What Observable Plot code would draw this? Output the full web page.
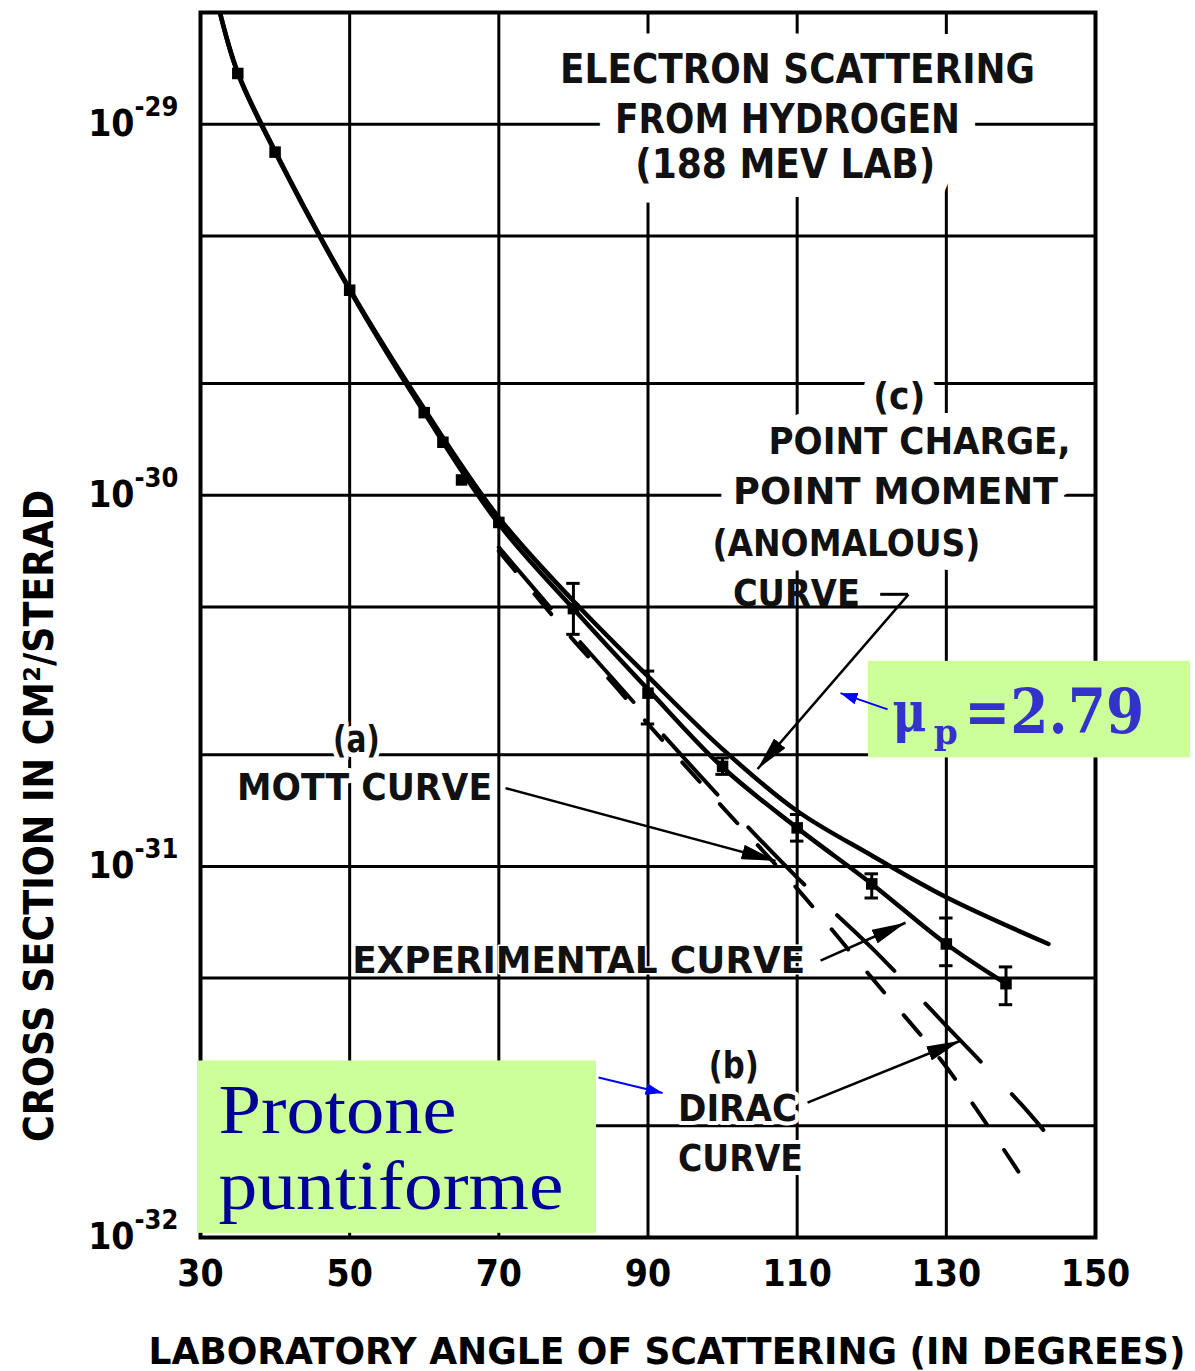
<!DOCTYPE html>
<html>
<head>
<meta charset="utf-8">
<script src="https://cdn.jsdelivr.net/npm/d3@7"></script>
<script src="https://cdn.jsdelivr.net/npm/@observablehq/plot@0.6"></script>
<style>
  html, body { margin: 0; padding: 0; background: #ffffff; }
  #chart svg { display: block; }
</style>
</head>
<body>
<div id="chart"></div>
<script>
// ---------------- data ----------------
const xTicks = [30, 50, 70, 90, 110, 130, 150];
const xGrid = [50, 70, 90, 110, 130];
const yGrid = [2e-32, 5e-32, 1e-31, 2e-31, 5e-31, 1e-30, 2e-30, 5e-30, 1e-29];
const yTicks = [1e-32, 1e-31, 1e-30, 1e-29];
const yTickBase = ["10", "10", "10", "10"];
const yTickExp = ["-32", "-31", "-30", "-29"];

// experimental curve (solid, through the points)
const expAngle = [32.5, 35, 40, 50, 60, 70, 80, 90, 100, 110, 120, 130, 138];
const expValue = [2.04e-29, 1.37e-29, 8.41e-30, 3.57e-30, 1.67e-30, 8.37e-31, 4.95e-31, 3.00e-31, 1.85e-31, 1.27e-31, 8.97e-32, 6.18e-32, 4.83e-32];

// (c) point charge, point moment (anomalous) curve
const anomAngle = [32.5, 35, 40, 50, 60, 70, 80, 90, 100, 110, 120, 130, 143.7];
const anomValue = [2.04e-29, 1.38e-29, 8.47e-30, 3.60e-30, 1.71e-30, 8.71e-31, 5.19e-31, 3.25e-31, 2.07e-31, 1.41e-31, 1.07e-31, 8.26e-32, 6.18e-32];

// (a) Mott curve
const mottAngle = [70, 80, 85, 90, 100, 110, 120, 130, 140.6];
const mottValue = [7.08e-31, 4.07e-31, 3.16e-31, 2.42e-31, 1.445e-31, 8.71e-32, 5.01e-32, 2.88e-32, 1.41e-32];

// (b) Dirac curve
const diracAngle = [70, 80, 90, 100, 110, 120, 130, 140, 143];
const diracValue = [7.24e-31, 4.22e-31, 2.51e-31, 1.51e-31, 9.33e-32, 6.03e-32, 3.72e-32, 2.29e-32, 1.95e-32];

// measured points
const pointAngle = [35, 40, 50, 60, 62.5, 65, 70, 80, 90, 100, 110, 120, 130, 138];
const pointValue = [1.37e-29, 8.41e-30, 3.57e-30, 1.67e-30, 1.39e-30, 1.10e-30, 8.45e-31, 4.95e-31, 2.93e-31, 1.86e-31, 1.27e-31, 8.97e-32, 6.18e-32, 4.83e-32];
const errAngle = [80, 90, 100, 110, 120, 130, 138];
const errLow = [4.22e-31, 2.42e-31, 1.77e-31, 1.17e-31, 8.22e-32, 5.40e-32, 4.24e-32];
const errHigh = [5.79e-31, 3.36e-31, 1.96e-31, 1.38e-31, 9.55e-32, 7.26e-32, 5.36e-32];

const xLabel = "LABORATORY ANGLE OF SCATTERING (IN DEGREES)";
const yLabel = "CROSS SECTION IN CM²/STERAD";

// ---------------- annotations (anchored in data space) ----------------
const titleNotes = [
  {x: 110.05, y: 1.40e-29, text: "ELECTRON SCATTERING"},
  {x: 108.7, y: 1.026e-29, text: "FROM HYDROGEN"},
  {x: 108.4, y: 7.76e-30, text: "(188 MEV LAB)"}
];
const cNotes = [
  {x: 123.7, y: 1.845e-30, text: "(c)"},
  {x: 126.4, y: 1.39e-30, text: "POINT CHARGE,"},
  {x: 123.2, y: 1.023e-30, text: "POINT MOMENT"},
  {x: 116.6, y: 7.41e-31, text: "(ANOMALOUS)"}
];
const cCurveNote = [{x: 109.9, y: 5.41e-31, text: "CURVE"}];
const mottNotes = [
  {x: 50.9, y: 2.20e-31, text: "(a)"},
  {x: 52.0, y: 1.625e-31, text: "MOTT CURVE"}
];
const expNote = [{x: 80.7, y: 5.55e-32, text: "EXPERIMENTAL CURVE"}];
const diracNotes = [
  {x: 101.5, y: 2.90e-32, text: "(b)"},
  {x: 102.0, y: 2.22e-32, text: "DIRAC"},
  {x: 102.4, y: 1.63e-32, text: "CURVE"}
];
const cDash = [{x1: 121.2, x2: 124.93, y: 5.41e-31}];
const blackArrows = [
  {x1: 70.9, y1: 1.625e-31, x2: 107.1, y2: 1.035e-31},
  {x1: 124.93, y1: 5.41e-31, x2: 104.69, y2: 1.83e-31},
  {x1: 113.13, y1: 5.57e-32, x2: 124.53, y2: 7.05e-32},
  {x1: 111.39, y1: 2.31e-32, x2: 131.9, y2: 3.39e-32}
];
const blueArrows = [
  {x1: 122.12, y1: 2.65e-31, x2: 115.81, y2: 2.93e-31},
  {x1: 83.37, y1: 2.70e-32, x2: 91.95, y2: 2.45e-32}
];
const boxes = [
  {x1: 119.57, x2: 162.74, y1: 1.96e-31, y2: 3.57e-31},
  {x1: 29.6, x2: 83.1, y1: 1.026e-32, y2: 2.99e-32}
];
const muNote = [{x: 122.79, y: 2.59e-31, text: "μ"}];
const subNote = [{x: 128.3, y: 2.29e-31, text: "p"}];
const valNote = [{x: 132.4, y: 2.59e-31, text: "=2.79"}];
const protNotes = [
  {x: 32.41, y: 2.20e-32, text: "Protone"},
  {x: 32.41, y: 1.37e-32, text: "puntiforme"}
];

// ---------------- tables ----------------
const zip = (a, v) => a.map((x, i) => ({angle: x, value: v[i]}));
const expCurve = zip(expAngle, expValue);
const anomCurve = zip(anomAngle, anomValue);
const mottCurve = zip(mottAngle, mottValue);
const diracCurve = zip(diracAngle, diracValue);
const points = zip(pointAngle, pointValue);
const errs = errAngle.map((a, i) => ({angle: a, lo: errLow[i], hi: errHigh[i]}));

const FONT = '"DejaVu Sans Condensed","DejaVu Sans",sans-serif';
const base = {x: "x", y: "y", text: "text", fontSize: 38, fontWeight: "bold"};
// a white halo drawn under each note (breaks the grid like the original lettering), then the lettering itself
function note(data, name, halo, size = 38) {
  const marks = [];
  if (halo > 0) marks.push(Plot.text(data, {...base, fontSize: size, fill: "white", stroke: "white", strokeWidth: halo, strokeLinejoin: "round", ariaDescription: name + "-halo"}));
  marks.push(Plot.text(data, {...base, fontSize: size, fill: "#111", ariaDescription: name}));
  return marks;
}

const chart = Plot.plot({
  width: 1195,
  height: 1371,
  marginLeft: 200,
  marginRight: 100,
  marginTop: 12,
  marginBottom: 134,
  x: {domain: [30, 150]},
  y: {type: "log", domain: [1e-32, 2e-29]},
  style: {fontFamily: FONT, background: "white", color: "black", overflow: "visible"},
  marks: [
    Plot.ruleX(xGrid, {stroke: "black", strokeWidth: 3}),
    Plot.ruleY(yGrid, {stroke: "black", strokeWidth: 3}),
    Plot.frame({stroke: "black", strokeWidth: 4}),
    Plot.axisX(xTicks, {tickSize: 0, tickPadding: 22, fontSize: 37, fontWeight: "bold", label: null}),
    Plot.axisY(yTicks, {tickSize: 0, tickPadding: 66, tickFormat: () => "10", fontSize: 37, fontWeight: "bold", label: null}),
    Plot.text(yTicks, {y: d => d, text: (d, i) => yTickExp[i], frameAnchor: "left", dx: -66, dy: -17, textAnchor: "start", lineAnchor: "middle", fontSize: 27, fontWeight: "bold"}),
    Plot.text([xLabel], {text: d => d, frameAnchor: "bottom", dx: 19, dy: 114, textAnchor: "middle", lineAnchor: "middle", fontSize: 38, fontWeight: "bold", ariaDescription: "xlabel"}),
    Plot.text([yLabel], {text: d => d, frameAnchor: "left", dx: -160, dy: 191, rotate: -90, textAnchor: "middle", lineAnchor: "middle", fontSize: 40, fontWeight: "bold", ariaDescription: "ylabel"}),

    ...note(titleNotes, "title", 38, 40),
    ...note(cNotes, "cnotes", 28),
    ...note(cCurveNote, "ccurve", 0),
    ...note(mottNotes, "mott", 10),
    ...note(expNote, "exp", 3),
    ...note(diracNotes, "dirac", 8),
    Plot.ruleY(cDash, {y: "y", x1: "x1", x2: "x2", stroke: "black", strokeWidth: 3}),

    Plot.line(mottCurve, {x: "angle", y: "value", stroke: "black", strokeWidth: 4, strokeDasharray: "26,30", curve: "catmull-rom", clip: true}),
    Plot.line(diracCurve, {x: "angle", y: "value", stroke: "black", strokeWidth: 4, strokeDasharray: "80,45", curve: "catmull-rom", clip: true}),
    Plot.line(anomCurve, {x: "angle", y: "value", stroke: "black", strokeWidth: 4.5, curve: "catmull-rom", clip: true}),
    Plot.line(expCurve, {x: "angle", y: "value", stroke: "black", strokeWidth: 4.5, curve: "catmull-rom", clip: true}),
    Plot.ruleX(errs, {x: "angle", y1: "lo", y2: "hi", stroke: "black", strokeWidth: 3}),
    Plot.ruleY(errs, {y: "lo", x1: d => d.angle - 0.9, x2: d => d.angle + 0.9, stroke: "black", strokeWidth: 3}),
    Plot.ruleY(errs, {y: "hi", x1: d => d.angle - 0.9, x2: d => d.angle + 0.9, stroke: "black", strokeWidth: 3}),
    Plot.dot(points, {x: "angle", y: "value", symbol: "square", r: 6.5, fill: "black"}),

    Plot.link(blackArrows, {x1: "x1", y1: "y1", x2: "x2", y2: "y2", stroke: "black", strokeWidth: 2.5, ariaDescription: "black-arrows"}),

    Plot.rect(boxes, {x1: "x1", x2: "x2", y1: "y1", y2: "y2", fill: "#ccff99"}),
    Plot.link(blueArrows, {x1: "x1", y1: "y1", x2: "x2", y2: "y2", stroke: "#0000ff", strokeWidth: 2, ariaDescription: "blue-arrows"}),
    Plot.text(muNote, {x: "x", y: "y", text: "text", textAnchor: "start", fontFamily: "DejaVu Serif", fontWeight: "bold", fontSize: 56, fill: "#3333cc", ariaDescription: "mu"}),
    Plot.text(subNote, {x: "x", y: "y", text: "text", textAnchor: "start", fontFamily: "DejaVu Serif", fontWeight: "bold", fontSize: 36, fill: "#3333cc", ariaDescription: "sub"}),
    Plot.text(valNote, {x: "x", y: "y", text: "text", textAnchor: "start", fontFamily: "DejaVu Serif", fontWeight: "bold", fontSize: 62, fill: "#3333cc", ariaDescription: "val"}),
    Plot.text(protNotes, {x: "x", y: "y", text: "text", textAnchor: "start", fontFamily: '"Liberation Serif","DejaVu Serif",serif', fontSize: 70, fill: "#000099", ariaDescription: "prot"})
  ]
});

document.getElementById("chart").appendChild(chart);

// ---------------- finishing touches ----------------
const svg = d3.select(chart.tagName.toLowerCase() === "svg" ? chart : chart.querySelector("svg"));
const defs = svg.insert("defs", ":first-child");
function marker(id, color, w, h) {
  defs.append("marker")
    .attr("id", id)
    .attr("viewBox", "0 0 10 10")
    .attr("refX", 10).attr("refY", 5)
    .attr("markerUnits", "userSpaceOnUse")
    .attr("markerWidth", w).attr("markerHeight", h)
    .attr("preserveAspectRatio", "none")
    .attr("orient", "auto")
    .append("path").attr("d", "M0,0L10,5L0,10Z").attr("fill", color);
}
marker("ahk", "black", 34, 15);
marker("ahb", "#0000ff", 17, 12);
svg.selectAll('g[aria-description="black-arrows"] path').attr("marker-end", "url(#ahk)");
svg.selectAll('g[aria-description="blue-arrows"] path').attr("marker-end", "url(#ahb)");

function fit(desc, widths) {
  for (const d of [desc, desc + "-halo"]) {
    svg.selectAll(`g[aria-description="${d}"] text`).each(function (_, i) {
      if (widths[i]) {
        this.setAttribute("textLength", widths[i]);
        this.setAttribute("lengthAdjust", "spacingAndGlyphs");
      }
    });
  }
}
fit("title", [475, 345, 300]);
fit("cnotes", [52, 302, 325, 268]);
fit("ccurve", [127]);
fit("mott", [47, 255]);
fit("exp", [453]);
fit("dirac", [50, 119, 125]);
fit("xlabel", [1037]);
fit("ylabel", [652]);
fit("mu", [34]);
fit("sub", [24]);
fit("val", [180]);
fit("prot", [238, 345]);
</script>
</body>
</html>
